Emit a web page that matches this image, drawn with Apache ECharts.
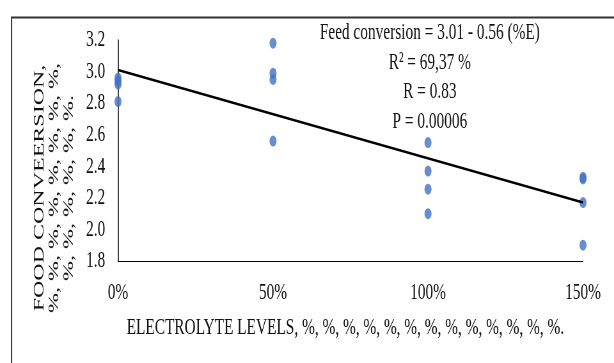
<!DOCTYPE html>
<html>
<head>
<meta charset="utf-8">
<script src="https://cdn.jsdelivr.net/npm/echarts@6/dist/echarts.min.js"></script>
<style>
html,body{margin:0;padding:0;background:#fff;overflow:hidden;width:614px;height:363px;}
#wrap{width:614px;height:363px;overflow:hidden;position:relative;}
#chart{width:960px;height:363px;transform:scaleX(0.6396);transform-origin:0 0;position:absolute;left:0;top:0;}
</style>
</head>
<body>
<div id="wrap"><div id="chart"></div></div>
<script>
// Data
const xLevels = [0, 0.5, 1.0, 1.5];            // electrolyte levels (fraction; 0.5 = 50%)
const yAt0   = [2.96, 2.94, 2.92, 2.81];
const yAt50  = [3.18, 2.99, 2.95, 2.56];
const yAt100 = [2.55, 2.37, 2.255, 2.10];
const yAt150 = [2.33, 2.32, 2.17, 1.90];
const regIntercept = 3.01;
const regSlope = -0.56;
const xTickLabels = ['0%', '50%', '100%', '150%'];
const yTicks = [1.8, 2.0, 2.2, 2.4, 2.6, 2.8, 3.0, 3.2];
const annotationLines = ['Feed conversion = 3.01 - 0.56 (%E)', 'R\u00B2 = 69,37 %', 'R = 0.83', 'P = 0.00006'];
const xTitle = 'ELECTROLYTE LEVELS, %, %, %, %, %, %, %, %, %, %, %, %, %.';
const yTitleLines = ['FOOD CONVEERSION,', '%, %, %, %, %, %, %, %,', '%, %, %, %, %, %.'];

const groups = [yAt0, yAt50, yAt100, yAt150];
const scatterData = [];
groups.forEach((g, i) => g.forEach(v => scatterData.push([xLevels[i], v])));
const xMin = xLevels[0], xMax = xLevels[xLevels.length - 1];
const lineData = [[xMin, regIntercept + regSlope * xMin], [xMax, regIntercept + regSlope * xMax]];

const FONT = '"Liberation Serif", "DejaVu Serif", serif';
const chart = echarts.init(document.getElementById('chart'), null, {renderer: 'canvas'});
chart.setOption({
  animation: false,
  backgroundColor: '#ffffff',
  textStyle: {fontFamily: FONT},
  grid: {left: 184.5, right: 48.5, top: 40, bottom: 102, containLabel: false},
  xAxis: {
    type: 'value', min: 0, max: 1.5, interval: 0.5,
    axisLine: {show: true, lineStyle: {color: '#000', width: 1.2}},
    axisTick: {show: false},
    splitLine: {show: false},
    axisLabel: {
      margin: 20, fontFamily: FONT, fontSize: 24, color: '#111',
      formatter: v => xTickLabels[Math.round(v / 0.5)]
    },
    name: xTitle, nameLocation: 'middle', nameGap: 55,
    nameTextStyle: {fontFamily: FONT, fontSize: 24, color: '#111', padding: [0, 16, 0, 0]}
  },
  yAxis: {
    type: 'value', min: 1.8, max: 3.2, interval: 0.2,
    axisLine: {show: true, lineStyle: {color: '#000', width: 1.5}},
    axisTick: {show: false},
    splitLine: {show: false},
    axisLabel: {
      margin: 20, fontFamily: FONT, fontSize: 24, color: '#111',
      formatter: v => yTicks.find(t => Math.abs(t - v) < 1e-6).toFixed(1)
    }
  },
  series: [
    {
      type: 'scatter', data: scatterData, symbol: 'circle', symbolSize: 11,
      itemStyle: {color: '#4472C4'}, z: 2
    },
    {
      type: 'line', data: lineData, symbol: 'none',
      lineStyle: {color: '#000', width: 2.6}, z: 3
    }
  ],
  graphic: [
    {
      type: 'rect', left: 15.6, top: 15, z: -1, silent: true,
      shape: {width: 1000, height: 400},
      style: {fill: 'none', stroke: '#333', lineWidth: 2}
    },
    {
      type: 'text', x: 672, y: 18.5,
      style: {
        text: annotationLines.join('\n'), fontFamily: FONT, fontSize: 24,
        lineHeight: 29.4, fill: '#111', align: 'center', verticalAlign: 'top'
      }
    },
    {
      type: 'text', x: 85, y: 188, rotation: Math.PI / 2,
      style: {
        text: yTitleLines.join('\n'), fontFamily: FONT, fontSize: 24,
        lineHeight: 23, fill: '#111', align: 'center', verticalAlign: 'middle'
      }
    }
  ]
});
</script>
</body>
</html>
